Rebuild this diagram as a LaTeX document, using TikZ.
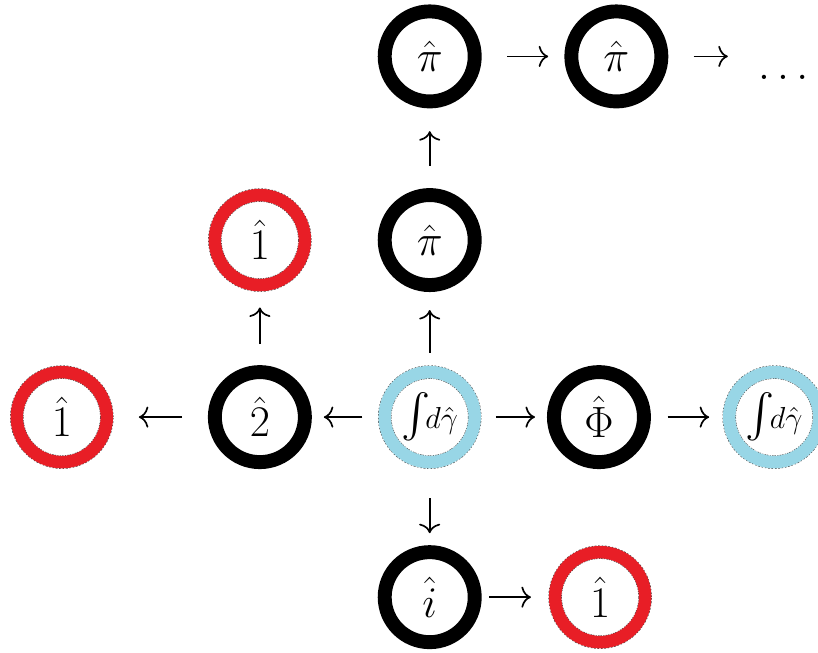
\documentclass[tikz,border=0pt]{standalone}
\usepackage{amsmath}
\usetikzlibrary{arrows.meta}
\definecolor{ringred}{RGB}{232,30,38}
\definecolor{ringblue}{RGB}{152,214,230}
\tikzset{
  op/.style={circle, draw=black, line width=6.6pt, minimum size=1.5cm, inner sep=0pt, font=\huge},
  unitop/.style={op, draw=ringred, line width=5.9pt,
    preaction={draw=black!70, dash pattern=on 0.7pt off 0.7pt, line width=6.4pt}},
  intop/.style={op, draw=ringblue, line width=5.9pt, font=\Large,
    preaction={draw=black!70, dash pattern=on 0.7pt off 0.7pt, line width=6.4pt}},
  conn/.style 2 args={-{Computer Modern Rightarrow[length=4.5pt, width=10pt]}, line width=0.8pt, shorten <=#1, shorten >=#2},
}

\begin{document}
\begin{tikzpicture}
  \useasboundingbox (0,0) rectangle (13.63,10.87);
  % top row
  \node[op] (pitop) at (7.16,9.93) {$\hat{\pi}$};
  \node[op] (piright) at (10.27,9.93) {$\hat{\pi}$};
  \node[font=\huge] (dots) at (13.05,9.58) {$\ldots$};
  % second row
  \node[unitop] (oneup) at (4.33,6.87) {$\hat{1}$};
  \node[op] (pimid) at (7.16,6.87) {$\hat{\pi}$};
  % third row
  \node[unitop] (oneleft) at (1.03,3.92) {$\hat{1}$};
  \node[op] (two) at (4.33,3.92) {$\hat{2}$};
  \node[intop] (intmid) at (7.16,3.92) {$\mbox{\huge$\int$}\!d\hat{\gamma}$};
  \node[op] (phi) at (9.98,3.92) {$\hat{\Phi}$};
  \node[intop] (intright) at (12.9,3.92) {$\mbox{\huge$\int$}\!d\hat{\gamma}$};
  % bottom row
  \node[op] (iota) at (7.16,0.92) {$\hat{i}$};
  \node[unitop] (onedown) at (10.0,0.92) {$\hat{1}$};
  % arrows
  \draw[conn={0.43cm}{0.27cm}] (pitop) -- (piright);
  \draw[conn={0.42cm}{0.38cm}] (piright) -- (piright -| dots.west);
  \draw[conn={0.37cm}{0.38cm}] (pimid) -- (pitop);
  \draw[conn={0.22cm}{0.3cm}] (intmid) -- (pimid);
  \draw[conn={0.35cm}{0.27cm}] (two) -- (oneup);
  \draw[conn={0.43cm}{0.43cm}] (two) -- (oneleft);
  \draw[conn={0.27cm}{0.2cm}] (intmid) -- (two);
  \draw[conn={0.25cm}{0.2cm}] (intmid) -- (phi);
  \draw[conn={0.28cm}{0.23cm}] (phi) -- (intright);
  \draw[conn={0.5cm}{0.2cm}] (intmid) -- (iota);
  \draw[conn={0.13cm}{0.3cm}] (iota) -- (onedown);
\end{tikzpicture}
\end{document}
